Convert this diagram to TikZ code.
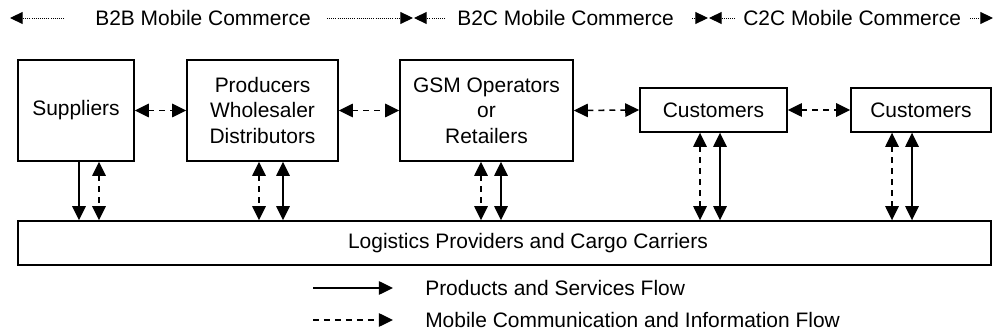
\documentclass[tikz,border=0pt]{standalone}
\usepackage{fontspec}
\setmainfont{Liberation Sans}
\usepackage{tikz}
\usetikzlibrary{arrows.meta}
\usetikzlibrary{calc}

\begin{document}
\begin{tikzpicture}[
  x=0.025cm, y=-0.025cm,
  font=\fontsize{14.9}{18.1}\selectfont,
  >={Triangle[length=10pt, width=9.5pt]},
  box/.style={rectangle, draw, line width=1pt, align=center, inner sep=0pt},
  flow/.style={line width=1.1pt},
  info/.style={line width=1.1pt, dash pattern=on 4.2pt off 3.6pt},
  hdr/.style={line width=0.7pt, dash pattern=on 0.6pt off 0.9pt,
              -{Triangle[length=9pt, width=8.5pt]}},
  lbl/.style={anchor=west, inner sep=0pt}
]
\useasboundingbox (0,0) rectangle (997,333);

% Header: commerce segments
\node[lbl] (b2b) at (95,18)  {B2B Mobile Commerce};
\node[lbl] (b2c) at (457,18) {B2C Mobile Commerce};
\node[lbl] (c2c) at (743,18) {C2C Mobile Commerce};
\coordinate (h0) at (10,18);   \coordinate (h1) at (64,18);
\coordinate (h2) at (327,18);  \coordinate (h3) at (413,18);
\coordinate (h4) at (414,18);  \coordinate (h5) at (445,18);
\coordinate (h6) at (692,18);  \coordinate (h7) at (708,18);
\coordinate (h8) at (709,18);  \coordinate (h9) at (735,18);
\coordinate (h10) at (970,18); \coordinate (h11) at (993,18);
\draw[hdr] (h1) -- (h0);
\draw[hdr] (h2) -- (h3);
\draw[hdr] (h5) -- (h4);
\draw[hdr] (h6) -- (h7);
\draw[hdr] (h9) -- (h8);
\draw[hdr] (h10) -- (h11);

% Participants
\node[box, minimum width=2.9cm, minimum height=2.525cm] (sup) at (76,110.5) {Suppliers};
\node[box, minimum width=3.775cm, minimum height=2.525cm] (prod) at (262.5,110.5) {Producers\\Wholesaler\\Distributors};
\node[box, minimum width=4.325cm, minimum height=2.525cm] (gsm) at (486.5,110.5) {GSM Operators\\or\\Retailers};
\node[box, minimum width=3.675cm, minimum height=1.1cm] (cus1) at (713.5,110) {Customers};
\node[box, minimum width=3.5cm, minimum height=1.1cm] (cus2) at (921,110) {Customers};
\node[box, minimum width=24.325cm, minimum height=1.1cm] (log) at (504.5,243) {};
\node[inner sep=0pt] (logtxt) at (528,243) {Logistics Providers and Cargo Carriers};

% Information links between participants
\draw[info,<->] (sup.east) -- (prod.west);
\draw[info,<->] (prod.east) -- (gsm.west);
\draw[info,<->] (gsm.east) -- (cus1.west);
\draw[info,<->] (cus1.east) -- (cus2.west);

% Links to logistics
\draw[flow,->]  ($(sup.south)+(3,0)$)    -- ($(sup.south |- log.north)+(3,0)$);
\draw[info,<->] ($(sup.south)+(23,0)$)   -- ($(sup.south |- log.north)+(23,0)$);
\draw[info,<->] ($(prod.south)+(-3.5,0)$) -- ($(prod.south |- log.north)+(-3.5,0)$);
\draw[flow,<->] ($(prod.south)+(20.5,0)$) -- ($(prod.south |- log.north)+(20.5,0)$);
\draw[info,<->] ($(gsm.south)+(-5.5,0)$) -- ($(gsm.south |- log.north)+(-5.5,0)$);
\draw[flow,<->] ($(gsm.south)+(14.5,0)$) -- ($(gsm.south |- log.north)+(14.5,0)$);
\draw[info,<->] ($(cus1.south)+(-13.5,0)$) -- ($(cus1.south |- log.north)+(-13.5,0)$);
\draw[flow,<->] ($(cus1.south)+(6.5,0)$)  -- ($(cus1.south |- log.north)+(6.5,0)$);
\draw[info,<->] ($(cus2.south)+(-29,0)$) -- ($(cus2.south |- log.north)+(-29,0)$);
\draw[flow,<->] ($(cus2.south)+(-9,0)$)  -- ($(cus2.south |- log.north)+(-9,0)$);

% Legend
\node[lbl] (lgsolid) at (425,288) {Products and Services Flow};
\node[lbl] (lgdash)  at (425,320) {Mobile Communication and Information Flow};
\coordinate (ls) at (313,288);
\coordinate (ld) at (313,320);
\draw[flow,->] (ls) -- ($(lgsolid.west)+(-32,0)$);
\draw[info,->] (ld) -- ($(lgdash.west)+(-32,0)$);
\end{tikzpicture}
\end{document}
